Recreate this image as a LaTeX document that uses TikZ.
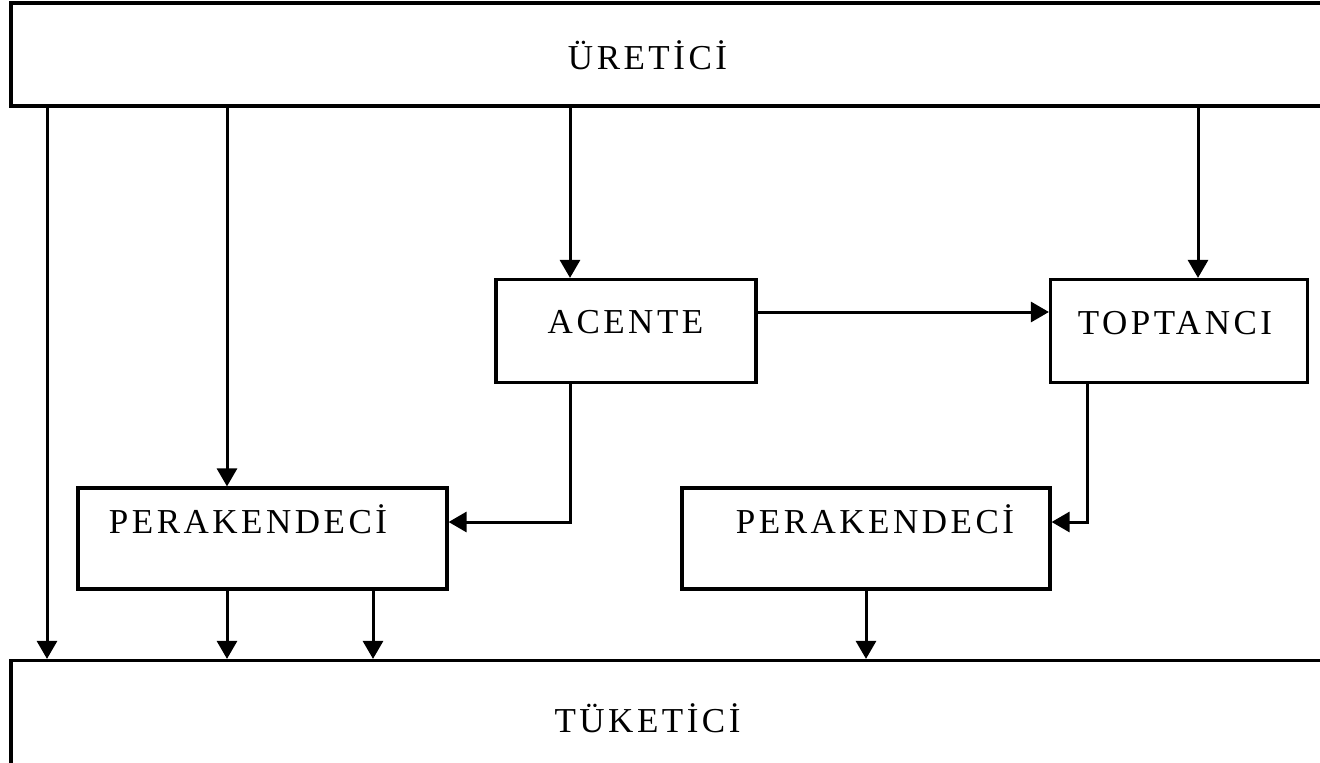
\documentclass[tikz,border=0pt]{standalone}
\usepackage{fontspec}
\setmainfont{Liberation Serif}
\newfontfamily\lblfont[LetterSpace=10]{Liberation Serif}
\usetikzlibrary{arrows.meta}
\begin{document}
\begin{tikzpicture}[x=1pt,y=-1pt,
  box/.style={draw, line width=3.2pt, inner sep=0pt},
  arr/.style={-{Triangle[width=20pt,length=18pt]}, line width=3pt},
  txt/.style={font=\lblfont\fontsize{35}{40}\selectfont, anchor=base, inner sep=0pt}]
\useasboundingbox (0,0) rectangle (1320,763);
\clip (0,0) rectangle (1320,763);
% boxes
\node[box, minimum width=1334pt, minimum height=103pt] (uret) at (678,54.5) {};
\node[box, minimum width=1334pt, minimum height=139.5pt] (tuk) at (678,730.25) {};
\node[box, minimum width=260pt, minimum height=103pt] (acente) at (626,331) {};
\node[box, minimum width=257pt, minimum height=103pt] (topt) at (1179,331) {};
\node[box, minimum width=369pt, minimum height=101pt] (per1) at (262.5,538.5) {};
\node[box, minimum width=368pt, minimum height=101pt] (per2) at (866,538.5) {};
% labels
\node[txt] (uretT) at (647.5,69) {ÜRETİCİ};
\node[txt] (tukT) at (647.5,732) {TÜKETİCİ};
\node[txt] (acenteT) at (625.5,333) {ACENTE};
\node[txt] (toptT) at (1175,334) {TOPTANCI};
\node[txt] (per1T) at (248,533) {PERAKENDECİ};
\node[txt] (per2T) at (875,533) {PERAKENDECİ};
% column / row helpers
\coordinate (c1) at (47,0);
\coordinate (c2) at (227,0);
\coordinate (c3) at (570,0);
\coordinate (c4) at (1198,0);
\coordinate (c5) at (373,0);
\coordinate (c6) at (866,0);
\coordinate (c7) at (1087,0);
\coordinate (r1) at (0,312);
\coordinate (r2) at (0,522);
% connectors
\draw[arr] (uret.south -| c1) -- (tuk.north -| c1);
\draw[arr] (uret.south -| c2) -- (per1.north -| c2);
\draw[arr] (uret.south -| c3) -- (acente.north -| c3);
\draw[arr] (uret.south -| c4) -- (topt.north -| c4);
\draw[arr] (acente.east |- r1) -- (topt.west |- r1);
\draw[arr] (acente.south -| c3) |- (per1.east |- r2);
\draw[arr] (topt.south -| c7) |- (per2.east |- r2);
\draw[arr] (per1.south -| c2) -- (tuk.north -| c2);
\draw[arr] (per1.south -| c5) -- (tuk.north -| c5);
\draw[arr] (per2.south -| c6) -- (tuk.north -| c6);
\end{tikzpicture}
\end{document}
